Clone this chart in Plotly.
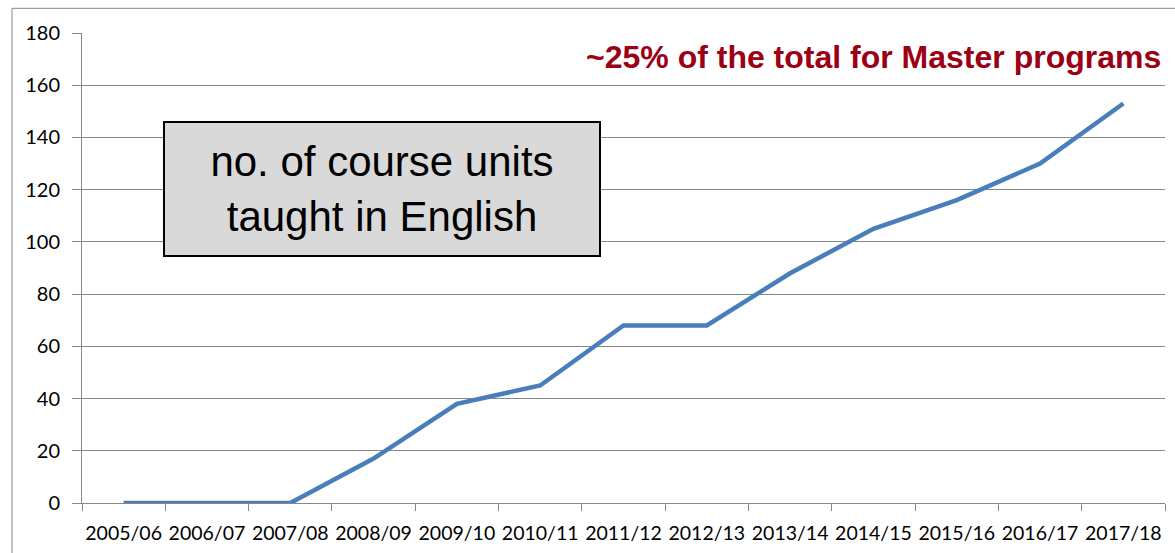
import plotly.graph_objects as go

# Course units taught in English per academic year
years = ['2005/06', '2006/07', '2007/08', '2008/09', '2009/10', '2010/11', '2011/12',
         '2012/13', '2013/14', '2014/15', '2015/16', '2016/17', '2017/18']
units = [0, 0, 0, 17, 38, 45, 68, 68, 88, 105, 116, 130, 153]
y_ticks = [0, 20, 40, 60, 80, 100, 120, 140, 160, 180]

grid_grey = '#868686'

fig = go.Figure(
    data=[go.Scatter(
        x=years,
        y=units,
        mode='lines',
        line=dict(color='#4a7ebb', width=4.5),
        hovertemplate='%{x}: %{y}<extra></extra>'
    )]
)

fig.update_layout(
    width=1175,
    height=553,
    margin=dict(l=82, r=10, t=33, b=50),
    paper_bgcolor='white',
    plot_bgcolor='white',
    showlegend=False,
    font=dict(family='Lato, Open Sans, sans-serif', color='black'),
    xaxis=dict(
        type='category',
        range=[-0.5, len(years) - 0.5],
        showgrid=False,
        showline=True,
        linecolor=grid_grey,
        linewidth=1,
        ticks='outside',
        tickson='boundaries',
        ticklen=7,
        tickcolor=grid_grey,
        tickfont=dict(size=19.5),
        tickangle=0,
        ticklabelstandoff=13,
        automargin=False,
        zeroline=False,
    ),
    yaxis=dict(
        range=[0, 180],
        tickvals=y_ticks,
        showgrid=True,
        gridcolor=grid_grey,
        gridwidth=1,
        showline=True,
        linecolor=grid_grey,
        ticks='outside',
        ticklen=9,
        tickcolor=grid_grey,
        tickfont=dict(size=20),
        ticklabelstandoff=8,
        automargin=False,
        zeroline=False,
    ),
)

# outer frame of the chart
fig.add_shape(type='rect', xref='paper', yref='paper',
              x0=-0.0646, x1=1.03, y0=-0.2, y1=1.0525,
              line=dict(color=grid_grey, width=1), fillcolor='rgba(0,0,0,0)', layer='below')

# grey label box
fig.add_annotation(
    xref='paper', yref='paper', x=0.277, y=0.668,
    xanchor='center', yanchor='middle',
    text='no. of course units<br>taught in English',
    showarrow=False,
    font=dict(family='Liberation Sans, Arial', size=42, color='black'),
    bgcolor='#d9d9d9', bordercolor='black', borderwidth=2, borderpad=0,
    width=434, height=132, align='center', valign='middle',
)

# red note top right
fig.add_annotation(
    xref='paper', yref='paper', x=0.998, y=0.949,
    xanchor='right', yanchor='middle',
    text='<b>~25% of the total for Master programs</b>',
    showarrow=False,
    font=dict(family='Liberation Sans, Arial', size=32, color='#9b0014'),
)

# page body has a default margin; drop it so the figure sits at the window origin
fig.write_html('out.html', config={'displayModeBar': False},
               post_script="document.body.style.margin='0';")
